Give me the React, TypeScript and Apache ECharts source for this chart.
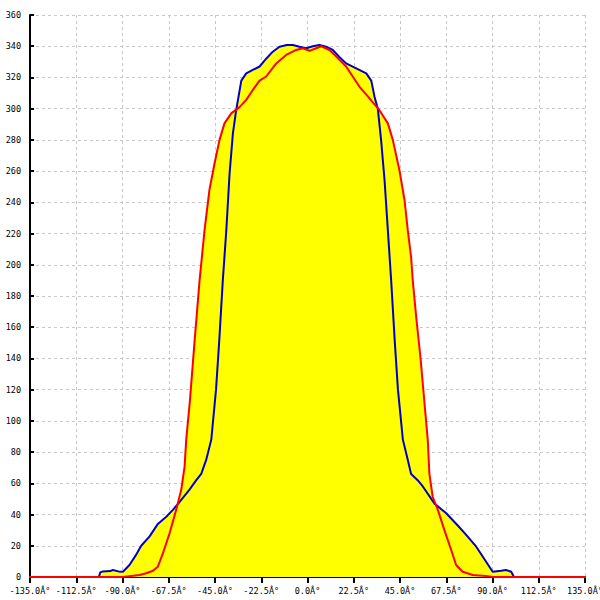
import React, { useEffect, useRef } from "react";
import * as echarts from "echarts";

const xTickLabels = ["-135.0Â°", "-112.5Â°", "-90.0Â°", "-67.5Â°", "-45.0Â°", "-22.5Â°", "0.0Â°", "22.5Â°", "45.0Â°", "67.5Â°", "90.0Â°", "112.5Â°", "135.0Â°"];

const blueAngles = [-135, -101.5, -100.8, -99.6, -96, -94.7, -92, -89.8, -86.6, -83.5, -80.9, -76.8, -72.8, -68.7, -65.5, -62.3, -57.4, -54.1, -51.7, -49.3, -46.8, -44.5, -43, -41.2, -39.5, -37.9, -36.3, -34.7, -32.2, -29.8, -26.6, -23.3, -20.1, -16.9, -13.6, -10, -7.1, -3.9, -0.6, 2.6, 5.8, 9.1, 12.3, 15.6, 18.8, 23.7, 28.6, 31.0, 32.6, 34.2, 35.8, 37.5, 39.1, 40.7, 42.5, 44, 46.4, 48.8, 50.4, 53.6, 56.1, 61.8, 67.5, 73.1, 77.2, 82.1, 88.5, 90.1, 94.2, 96.5, 99.1, 100.2, 100.6, 135];
const blueValues = [0, 0, 3, 3.6, 3.8, 4.5, 3.6, 3.4, 7.7, 14, 20, 26, 34, 38.6, 43, 48, 56, 62, 66, 75, 88, 120, 150, 190, 222, 258.6, 284, 299, 318, 322.6, 324.8, 327, 332, 336.5, 339.7, 340.8, 340.8, 339.7, 338.7, 340, 340.8, 339.7, 337.6, 333, 329, 325.8, 322.6, 318, 307.7, 300, 280, 254, 222, 190, 150, 120, 88, 75, 66, 62, 58, 47, 40.8, 33, 27, 19.4, 6.6, 3.4, 4, 4.5, 3.4, 0.6, 0, 0];

const redAngles = [-180, -89.8, -81.7, -78.5, -75.2, -72.8, -70.4, -67.1, -63.9, -61.4, -59.8, -59.0, -57.2, -55.0, -52.5, -50.1, -47.7, -45.2, -42.8, -40.4, -37.1, -33.1, -29.8, -26.6, -23.3, -20.1, -15.2, -10.4, -5.5, -2.3, 1.0, 4.2, 6.7, 10.7, 14.0, 18.8, 22.0, 25.3, 28.6, 31.8, 35.0, 39.1, 41.5, 44.7, 47.2, 48.8, 50.4, 51.2, 53, 55.0, 57, 58.5, 59.3, 60.9, 63.4, 66.6, 69.9, 72.3, 75.5, 80.4, 86.9, 90.1, 180];
const redValues = [0, 0, 1.3, 2.4, 4, 6.6, 15, 28, 43, 56, 70.7, 88, 113, 150, 190, 222, 248, 265, 280, 290.6, 297, 301, 305.6, 312, 318, 320.6, 329, 334.4, 337.6, 338.7, 337, 338.7, 340, 337.6, 333.4, 327, 320.6, 314, 309, 304, 299, 290.6, 280, 260.7, 241.5, 222, 205, 190, 165, 140, 110, 88, 66, 51.4, 43, 30, 17.3, 7.7, 3.4, 1.3, 0.6, 0, 0];

const blueData = blueAngles.map((a, i) => [a, blueValues[i]]);
const redData = redAngles.map((a, i) => [a, redValues[i]]);

const BLUE = "#0000c8";
const RED = "#ff0000";
const YELLOW = "#ffff00";
const FONT = "DejaVu Sans Mono";

export default function App() {
  const ref = useRef<HTMLDivElement>(null);
  useEffect(() => {
    if (!ref.current) return;
    const chart = echarts.init(ref.current, undefined, { renderer: "svg" });
    const gridLine = { show: true, lineStyle: { color: "#c8c8c8", type: [3, 3] as any, width: 1 } };
    chart.setOption({
      animation: false,
      backgroundColor: "#ffffff",
      grid: { left: 30, right: 15, top: 15, bottom: 23, containLabel: false, outerBoundsMode: "none" },
      xAxis: {
        type: "value",
        min: -135,
        max: 135,
        interval: 22.5,
        axisLine: { show: true, onZero: false, lineStyle: { color: "#000", width: 2 } },
        axisTick: { show: true, length: 6, lineStyle: { color: "#000", width: 2 } },
        axisLabel: {
          show: true,
          margin: 9,
          color: "#000",
          fontFamily: FONT,
          fontSize: 8.5,
          showMinLabel: true,
          showMaxLabel: true,
          hideOverlap: false,
          formatter: (v: number) => {
            const idx = Math.round((v + 135) / 22.5);
            return xTickLabels[idx] ?? "";
          },
        },
        splitLine: gridLine,
      },
      yAxis: {
        type: "value",
        min: 0,
        max: 360,
        interval: 20,
        axisLine: { show: true, onZero: false, lineStyle: { color: "#000", width: 2 } },
        axisTick: { show: true, inside: true, length: 4, lineStyle: { color: "#000", width: 2 } },
        axisLabel: { show: true, margin: 9, color: "#000", fontFamily: FONT, fontSize: 8.5 },
        splitLine: gridLine,
      },
      series: [
        {
          type: "line",
          data: blueData,
          symbol: "none",
          lineStyle: { width: 0, opacity: 0 },
          areaStyle: { color: YELLOW, opacity: 1 },
          z: 1,
        },
        {
          type: "line",
          data: redData,
          symbol: "none",
          lineStyle: { width: 0, opacity: 0 },
          areaStyle: { color: YELLOW, opacity: 1 },
          z: 1,
        },
        {
          type: "line",
          data: blueData,
          symbol: "none",
          lineStyle: { width: 2, color: BLUE },
          z: 3,
        },
        {
          type: "line",
          data: redData,
          symbol: "none",
          clip: false,
          lineStyle: { width: 2, color: RED },
          z: 4,
        },
      ],
    });
    return () => chart.dispose();
  }, []);
  return (
    <div
      ref={ref}
      style={{ position: "fixed", left: 0, top: 0, width: 600, height: 600, overflow: "hidden" }}
    />
  );
}
